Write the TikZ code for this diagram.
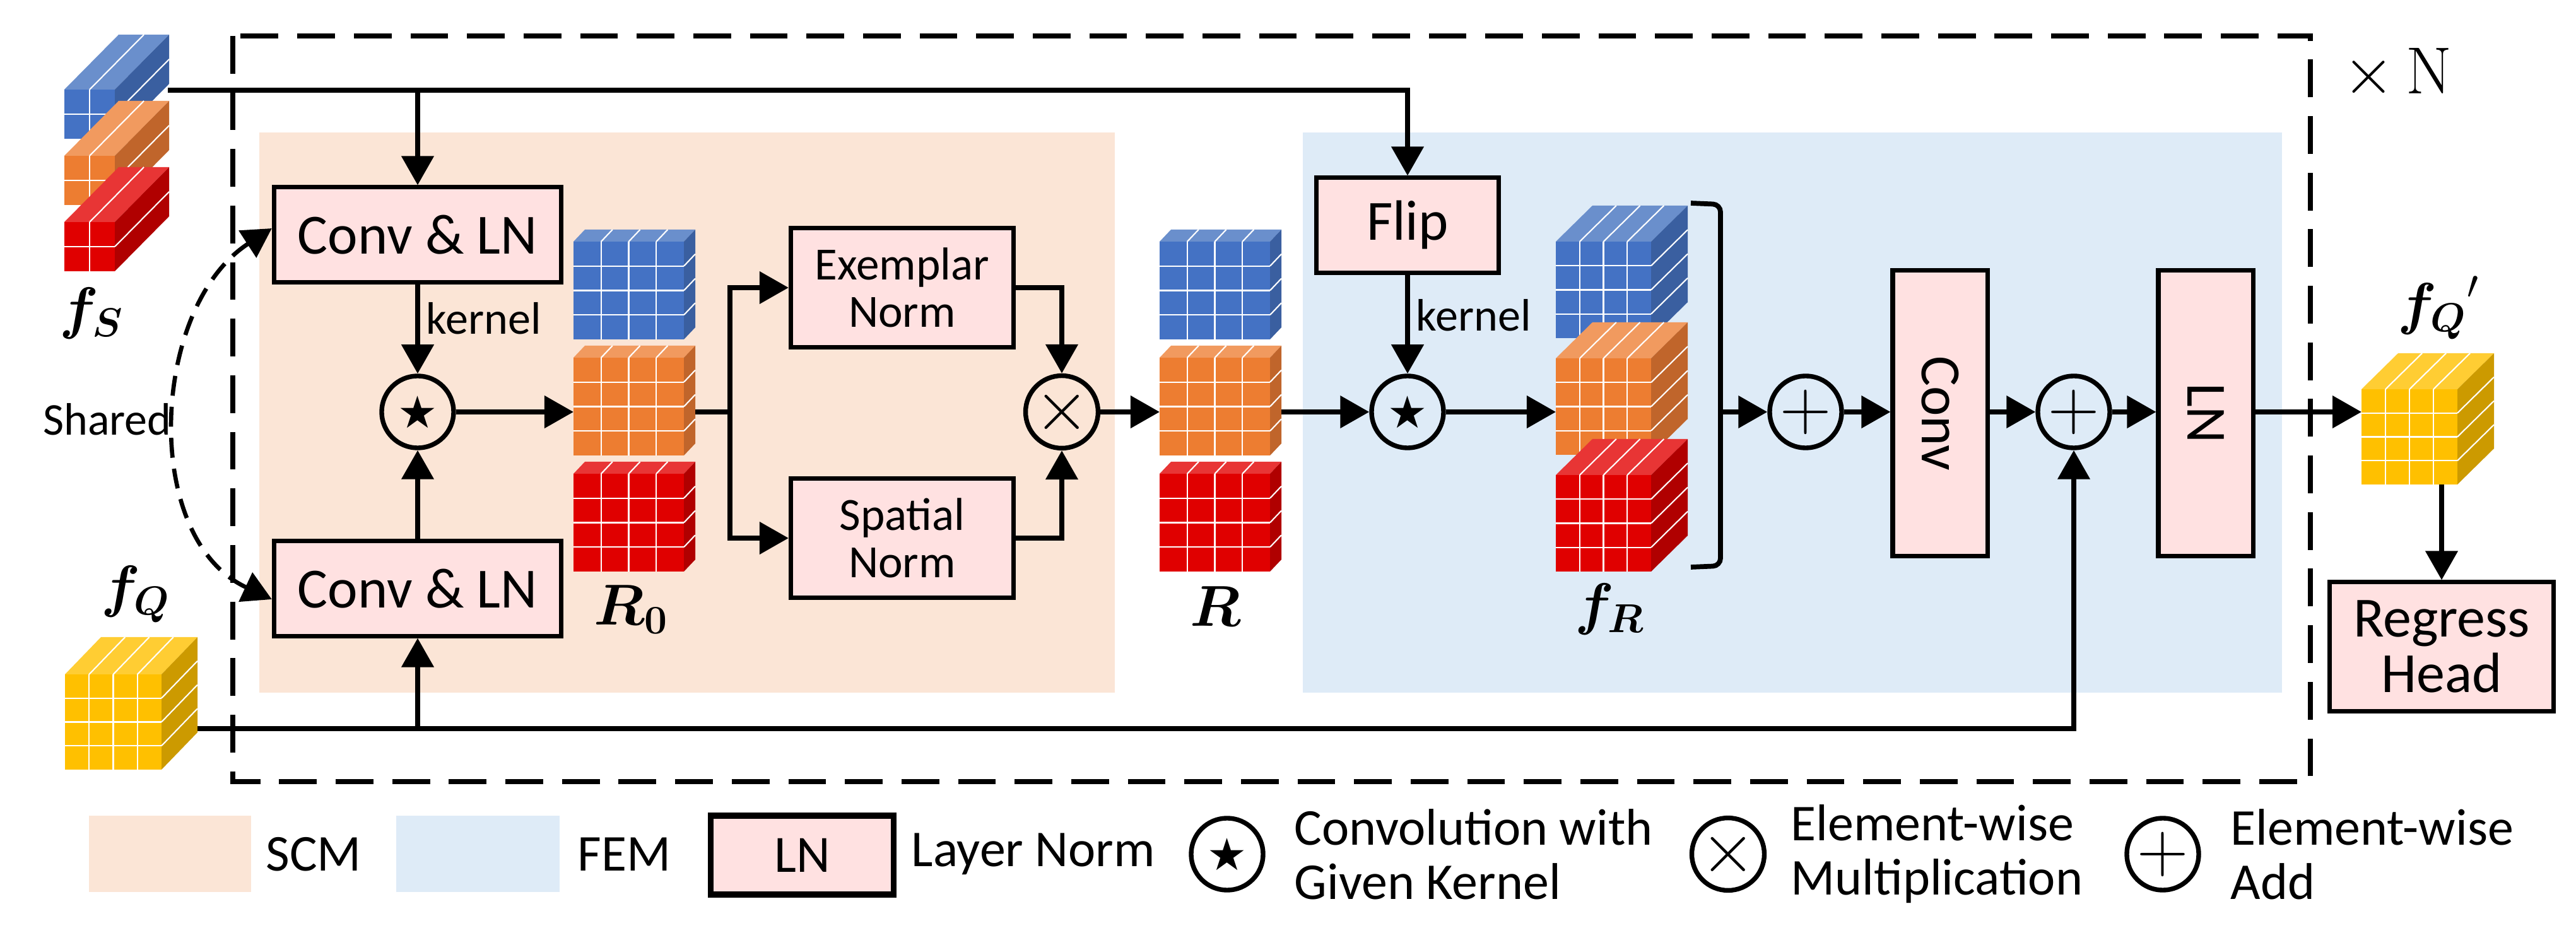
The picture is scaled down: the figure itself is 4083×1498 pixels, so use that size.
\RequirePackage{fix-cm}
\documentclass[tikz,border=0pt]{standalone}
\usepackage[no-math]{fontspec}
\setmainfont{Carlito}
\newfontfamily\symbfont{DejaVu Sans}
\usepackage{amsmath}
\usepackage{bm}
\usepackage{graphicx}
\usepackage{tikz}
\usetikzlibrary{arrows.meta,positioning,calc}

\definecolor{bluF}{HTML}{4472C4}
\definecolor{bluT}{HTML}{6A8FCC}
\definecolor{bluS}{HTML}{3A5FA0}
\definecolor{orgF}{HTML}{ED7D31}
\definecolor{orgT}{HTML}{F19A5F}
\definecolor{orgS}{HTML}{C0652B}
\definecolor{redF}{HTML}{E00000}
\definecolor{redT}{HTML}{E83535}
\definecolor{redS}{HTML}{B00000}
\definecolor{yelF}{HTML}{FFC000}
\definecolor{yelT}{HTML}{FFCD33}
\definecolor{yelS}{HTML}{CC9A00}
\definecolor{scmbg}{HTML}{FBE5D6}
\definecolor{fembg}{HTML}{DEEBF7}
\definecolor{boxpink}{HTML}{FFE1E1}

\newcommand{\convstar}{{\symbfont\fontsize{20}{20}\selectfont ★}}

% feature cube: x, y (front top-left), w, h, dx, dy (depth), n (grid), colour, name
\newcommand{\featcube}[9]{%
  \fill[#8F] (#1,#2) rectangle ++(#3,#4);
  \fill[#8T] (#1,#2) -- ++(#5,-#6) -- ++(#3,0) -- ++(-#5,#6) -- cycle;
  \fill[#8S] (#1+#3,#2) -- ++(#5,-#6) -- ++(0,#4) -- ++(-#5,#6) -- cycle;
  \pgfmathtruncatemacro\cubelast{#7-1}
  \foreach \k in {1,...,\cubelast}{
    \draw[white, line width=0.6pt] ({#1+\k*#3/#7},#2) -- ++(0,#4);
    \draw[white, line width=0.6pt] (#1,{#2+\k*#4/#7}) -- ++(#3,0);
    \draw[white, line width=0.6pt] ({#1+\k*#3/#7},#2) -- ++(#5,-#6);
    \draw[white, line width=0.6pt] (#1+#3,{#2+\k*#4/#7}) -- ++(#5,-#6);
  }
  \coordinate (#9-w) at (#1,#2+#4/2);
  \coordinate (#9-e) at (#1+#3+#5,#2+#4/2);
  \coordinate (#9-s) at (#1+#3/2,#2+#4);
}

\begin{document}
\begin{tikzpicture}[x=0.01cm, y=-0.01cm,
    conn/.style={line width=2.2pt, -{Triangle[length=0.46cm,width=0.5cm]}},
    wire/.style={line width=2.2pt},
    pinkbox/.style={draw, line width=2pt, fill=boxpink, inner sep=0pt, align=center},
    opnode/.style={circle, draw, line width=2.1pt, minimum size=1.14cm, inner sep=0pt, font=\fontsize{32}{32}\selectfont},
    bigtxt/.style={font=\fontsize{25.6}{25}\selectfont},
    normtxt/.style={font=\fontsize{20.8}{21.5}\selectfont},
    lbl/.style={font=\fontsize{20.5}{22}\selectfont, inner sep=0.1cm},
    mathlbl/.style={font=\fontsize{26}{28}\selectfont},
    legtxt/.style={font=\fontsize{23.3}{24.5}\selectfont, inner sep=0pt, anchor=west, align=left},
    shared/.style={line width=1.9pt, dash pattern=on 9pt off 5pt,
      {Triangle[length=0.46cm,width=0.5cm]}-{Triangle[length=0.46cm,width=0.5cm]}}
  ]
  \useasboundingbox (0,0) rectangle (4083,1498);

  % module backgrounds
  \fill[scmbg] (411,210) rectangle (1767,1098);
  \fill[fembg] (2065,210) rectangle (3617,1098);
  \draw[line width=2.1pt, dash pattern=on 17pt off 8.5pt] (369,57) rectangle (3662,1239);
  \node[font=\fontsize{30}{30}\selectfont] (reps) at (3800,117) {$\times\,\mathrm{N}$};

  % features
  \featcube{102}{142}{80}{78}{86}{87}{2}{blu}{fsb}
  \featcube{102}{247}{80}{78}{86}{87}{2}{org}{fso}
  \featcube{102}{352}{80}{78}{86}{87}{2}{red}{fsr}
  \featcube{103}{1069}{153}{151}{57}{59}{4}{yel}{fq}
  \featcube{909}{383}{175}{155}{18}{19}{4}{blu}{r0b}
  \featcube{909}{567}{175}{155}{18}{19}{4}{org}{r0o}
  \featcube{909}{751}{175}{155}{18}{19}{4}{red}{r0r}
  \featcube{1838}{383}{175}{155}{18}{19}{4}{blu}{rb}
  \featcube{1838}{567}{175}{155}{18}{19}{4}{org}{ro}
  \featcube{1838}{751}{175}{155}{18}{19}{4}{red}{rr}
  \featcube{2466}{383}{151}{153}{58}{57}{4}{blu}{frb}
  \featcube{2466}{568}{151}{153}{58}{57}{4}{org}{fro}
  \featcube{2466}{753}{151}{153}{58}{57}{4}{red}{frr}
  \featcube{3743}{617}{152}{151}{58}{57}{4}{yel}{fqp}

  \node[mathlbl] (lfs) at (145,497) {$\bm{f_S}$};
  \node[mathlbl] (lfq) at (215,942) {$\bm{f_Q}$};
  \node[mathlbl] (lr0) at (1000,966) {$\bm{R_0}$};
  \node[mathlbl] (lr) at (1927,961) {$\bm{R}$};
  \node[mathlbl] (lfr) at (2551,966) {$\bm{f_R}$};
  \node[mathlbl] (lfqp) at (3865,488) {${\bm{f_Q}}'$};
  \node[lbl] (shr) at (170,665) {Shared};

  % blocks
  \node[pinkbox, bigtxt, minimum width=4.55cm, minimum height=1.5cm] (cl1) at (662,372) {Conv \& LN};
  \node[pinkbox, bigtxt, minimum width=4.55cm, minimum height=1.5cm] (cl2) at (662,933) {Conv \& LN};
  \node[opnode] (star1) at (662,653) {\convstar};
  \node[pinkbox, normtxt, minimum width=3.53cm, minimum height=1.88cm] (exem) at (1430,456) {Exemplar\\Norm};
  \node[pinkbox, normtxt, minimum width=3.53cm, minimum height=1.88cm] (spat) at (1430,853) {Spatial\\Norm};
  \node[opnode] (mult) at (1683,653) {$\times$};
  \node[pinkbox, bigtxt, minimum width=2.89cm, minimum height=1.5cm] (flip) at (2231,357) {Flip};
  \node[opnode] (star2) at (2231,653) {\convstar};
  \node[opnode] (add1) at (2862,653) {$+$};
  \node[pinkbox, bigtxt, minimum width=1.5cm, minimum height=4.53cm] (conv) at (3075,655) {\rotatebox{-90}{Conv}};
  \node[opnode] (add2) at (3287,653) {$+$};
  \node[pinkbox, bigtxt, minimum width=1.5cm, minimum height=4.53cm] (lnorm) at (3496,655) {\rotatebox{-90}{LN}};
  \node[pinkbox, bigtxt, minimum width=3.54cm, minimum height=2.04cm] (head) at (3870,1025) {Regress\\Head};

  % connections
  \coordinate (fsout) at (266,143);
  \coordinate (fqout) at (313,1155);
  \draw[conn] (fsout) -| (flip.north);
  \draw[conn] (fsout -| cl1.north) -- (cl1.north);
  \draw[conn] (fqout) -| (add2.south);
  \draw[conn] (fqout -| cl2.south) -- (cl2.south);
  \draw[shared] ([yshift=0.1cm]cl1.west) to[out=213, in=155] ([yshift=-0.17cm]cl2.west);
  \draw[conn] (cl1.south) -- node[lbl, right, pos=0.38] {kernel} (star1.north);
  \draw[conn] (cl2.north) -- (star1.south);
  \draw[conn] (star1.east) -- (star1.east -| r0o-w);
  \coordinate (split) at (1157,653);
  \draw[wire] (star1 -| r0o-e) -- (split);
  \draw[conn] (split) |- (exem.west);
  \draw[conn] (split) |- (spat.west);
  \draw[conn] (exem.east) -| (mult.north);
  \draw[conn] (spat.east) -| (mult.south);
  \draw[conn] (mult.east) -- (mult.east -| ro-w);
  \draw[conn] (star2 -| ro-e) -- (star2.west);
  \draw[conn] (flip.south) -- node[lbl, right, pos=0.41] {kernel} (star2.north);
  \draw[conn] (star2.east) -- (star2.east -| fro-w);
  \draw[line width=2.2pt, rounded corners=0.12cm] (2680,322) -- (2727,324) -- (2727,897) -- (2680,899);
  \coordinate (brk) at (2727,653);
  \draw[conn] (brk) -- (add1.west);
  \draw[conn] (add1.east) -- (add1.east -| conv.west);
  \draw[conn] (add2 -| conv.east) -- (add2.west);
  \draw[conn] (add2.east) -- (add2.east -| lnorm.west);
  \draw[conn] (add2 -| lnorm.east) -- (add2 -| fqp-w);
  \draw[conn] (head.north |- fqp-s) -- (head.north);

  % legend
  \node[fill=scmbg, minimum width=2.57cm, minimum height=1.21cm, inner sep=0pt] (lgscm) at (269.5,1353.5) {};
  \node[legtxt] at (421,1354) {SCM};
  \node[fill=fembg, minimum width=2.59cm, minimum height=1.21cm, inner sep=0pt] (lgfem) at (757.5,1353.5) {};
  \node[legtxt] at (915,1354) {FEM};
  \node[pinkbox, line width=2.6pt, minimum width=2.89cm, minimum height=1.25cm, font=\fontsize{23.6}{24}\selectfont] (lgln) at (1271.5,1355.5) {LN};
  \node[legtxt] at (1444,1354) {Layer Norm};
  \node[opnode] (lgstar) at (1945,1354) {\convstar};
  \node[legtxt] at (2051,1354) {Convolution with\\Given Kernel};
  \node[opnode] (lgmult) at (2739,1354) {$\times$};
  \node[legtxt] at (2838,1354) {Element-wise\\Multiplication};
  \node[opnode] (lgadd) at (3428,1354) {$+$};
  \node[legtxt] at (3535,1354) {Element-wise\\Add};
\end{tikzpicture}
\end{document}
